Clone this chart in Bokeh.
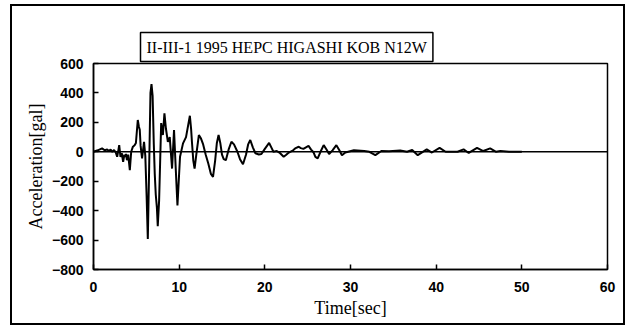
from bokeh.plotting import figure
from bokeh.models import Span, FixedTicker, Range1d, Title
from bokeh.embed import file_html
from bokeh.resources import INLINE

title_text = "II-III-1 1995 HEPC HIGASHI KOB N12W"
x_label = "Time[sec]"
y_label = "Acceleration[gal]"
x_ticks = [0, 10, 20, 30, 40, 50, 60]
y_ticks = [-800, -600, -400, -200, 0, 200, 400, 600]

time_sec = [0, 0.5, 1.0, 1.3, 1.6, 1.8, 2.0, 2.2, 2.4, 2.6, 2.76, 2.9, 3.0, 3.15, 3.3, 3.46,
            3.6, 3.7, 3.8, 3.9, 4.05, 4.24, 4.4, 4.6, 4.8, 4.95, 5.17, 5.3, 5.4, 5.5, 5.67,
            5.9, 6.05, 6.2, 6.34, 6.5, 6.65, 6.77, 6.9, 7.04, 7.15, 7.27, 7.4, 7.5, 7.66,
            7.9, 8.1, 8.28, 8.45, 8.68, 8.9, 9.17, 9.4, 9.6, 9.8, 10.1, 10.45, 10.8, 11.25,
            11.4, 11.5, 11.65, 11.8, 12.0, 12.3, 12.55, 12.8, 13.1, 13.4, 13.7, 13.95, 14.2,
            14.4, 14.6, 14.8, 15.0, 15.2, 15.45, 15.8, 16.1, 16.4, 16.8, 17.1, 17.45, 17.8,
            18.05, 18.3, 18.6, 18.9, 19.3, 19.6, 20.0, 20.5, 20.8, 21.0, 21.4, 21.7, 22.2,
            22.5, 22.8, 23.3, 23.6, 23.96, 24.2, 24.5, 24.8, 25.1, 25.4, 25.7, 25.9, 26.17,
            26.5, 26.87, 27.2, 27.5, 27.9, 28.35, 28.7, 29.0, 29.4, 30.4, 31.6, 32.2, 32.9,
            33.6, 34.5, 35.8, 36.6, 37.2, 37.85, 38.9, 39.5, 40.4, 41.1, 42.5, 43.2, 43.8,
            44.77, 45.5, 46.3, 47.0, 47.5, 48.5, 50.0]
accel_gal = [0, 10, 23, 10, 15, 5, 15, 0, 12, -5, -34, 10, 45, -34, -10, -68,
             -20, -35, -15, -57, -20, -125, 0, 35, 45, 60, 216, 170, 150, 40, -45,
             68, -30, -300, -592, -100, 400, 460, 380, 50, -150, -292, -380, -505, -330,
             195, 114, 262, 160, 68, 100, -114, 148, -114, -364, -34, 57, 100, 245,
             150, 60, -60, -114, -20, 114, 90, 50, -20, -80, -150, -170, -60,
             60, 114, 60, -20, -50, -57, 20, 68, 50, 0, -50, -85, -20,
             50, 80, 30, -10, -18, -15, 20, 60, 25, 0, 5, -5, -34,
             -20, -5, 10, 25, 34, 25, 20, 30, 40, 15, -5, -35, -45,
             0, 45, 15, -15, 10, 45, 10, -23, -5, 10, 5, 0, -23,
             5, 3, 8, 0, 12, -23, 16, -5, 27, 0, 0, 16, -8,
             27, 5, 23, 0, 5, 0, 0]

p = figure(width=615, height=321, output_backend="svg", toolbar_location=None,
           x_range=Range1d(0, 60), y_range=Range1d(-800, 600),
           min_border_left=81, min_border_right=20, min_border_top=57, min_border_bottom=58)
p.title = None
p.styles = {"border": "2px solid black", "margin-left": "10px", "margin-top": "4px"}
p.background_fill_color = "white"
p.border_fill_color = "white"
p.xgrid.visible = False
p.ygrid.visible = False
p.outline_line_color = "black"
p.outline_line_width = 1.5

p.line(time_sec, accel_gal, line_color="black", line_width=2)
p.add_layout(Span(location=0, dimension="width", line_color="black", line_width=1.5))

for ax in (p.xaxis[0], p.yaxis[0]):
    ax.axis_line_color = "black"
    ax.axis_line_width = 1.5
    ax.major_tick_in = 5
    ax.major_tick_out = 0
    ax.major_tick_line_width = 1.5
    ax.minor_tick_line_color = None
    ax.major_label_text_font = "Liberation Sans"
    ax.major_label_text_font_style = "bold"
    ax.major_label_text_font_size = "14px"
    ax.major_label_text_color = "black"
    ax.axis_label_text_font = "Liberation Serif"
    ax.axis_label_text_font_style = "normal"
    ax.axis_label_text_font_size = "18px"
    ax.axis_label_text_color = "black"

p.xaxis[0].ticker = FixedTicker(ticks=x_ticks)
p.yaxis[0].ticker = FixedTicker(ticks=y_ticks)
p.xaxis[0].axis_label = x_label
p.yaxis[0].axis_label = y_label
p.xaxis[0].major_label_standoff = 12
p.yaxis[0].major_label_standoff = 10
p.xaxis[0].axis_label_standoff = 3
p.yaxis[0].axis_label_standoff = 3

p.add_layout(Title(text=title_text, align="left", vertical_align="bottom", offset=47,
                   standoff=4, text_font="Liberation Serif", text_font_style="normal",
                   text_font_size="16px", text_color="black",
                   border_line_color="black", border_line_width=1.5, padding=6), "above")
# invisible spacer between the frame and the boxed title
p.add_layout(Title(text="_", standoff=8, text_font_size="10px", text_alpha=0,
                   border_line_color=None), "above")

open("out.html", "w").write(file_html(p, INLINE))
